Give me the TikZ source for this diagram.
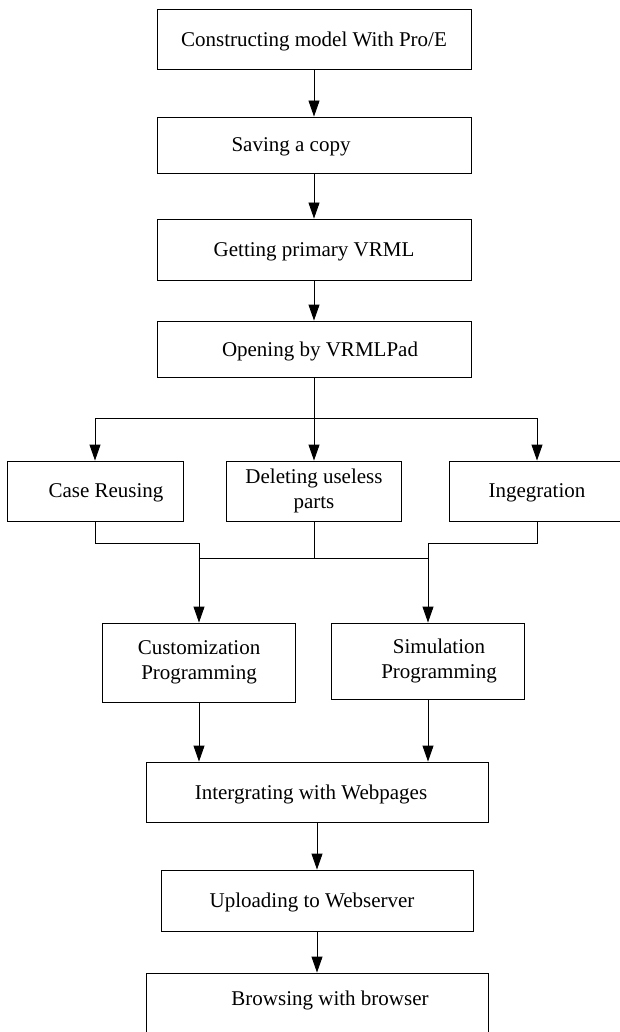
\documentclass[tikz,border=0pt]{standalone}
\usepackage{fontspec}
\setmainfont{Liberation Serif}
\usetikzlibrary{arrows.meta}
\begin{document}
\begin{tikzpicture}[x=1pt,y=-1pt,line width=0.9pt,font=\fontsize{21}{25}\selectfont,
        box/.style={draw,inner sep=0pt,minimum width=#1},box/.default=314,
        arr/.style={-{Triangle[length=16pt,width=11pt]}},
        every label/.style={align=center}]
    \useasboundingbox (0,0) rectangle (620,1032);
    \node[box,minimum height=60,label={[yshift=-2pt]center:Constructing model With Pro/E}] (model) at (314,39) {};
    \node[box,minimum height=56,label={[xshift=-23pt,yshift=-2pt]center:Saving a copy}] (copy) at (314,145) {};
    \node[box,minimum height=61,label={[yshift=-2pt]center:Getting primary VRML}] (vrml) at (314,249.5) {};
    \node[box,minimum height=56,label={[xshift=6pt,yshift=-2pt]center:Opening by VRMLPad}] (pad) at (314,349) {};
    \node[box=176,minimum height=60,label={[xshift=11pt,yshift=-2pt]center:Case Reusing}] (reuse) at (95,491) {};
    \node[box=175,minimum height=60,label={center:Deleting useless\\parts}] (del) at (314,491) {};
    \node[box=176,minimum height=60,label={[yshift=-2pt]center:Ingegration}] (integ) at (537,491) {};
    \node[box=193,minimum height=79,label={center:Customization\\Programming}] (cust) at (199,662.5) {};
    \node[box=193,minimum height=76,label={[xshift=11pt]center:Simulation\\Programming}] (sim) at (428,661) {};
    \node[box=342,minimum height=60,label={[xshift=-6pt,yshift=-2pt]center:Intergrating with Webpages}] (web) at (317,792) {};
    \node[box=342,minimum height=62,label={[xshift=13pt,yshift=-41pt]north:Browsing with browser}] (browse) at (317,1004) {};
    \node[box=312,minimum height=61,label={[xshift=-5pt,yshift=-2pt]center:Uploading to Webserver}] (up) at (317,900.5) {};
    \coordinate (fork) at (314,418);
    \coordinate (jl) at (199,543);
    \coordinate (jr) at (428,543);
    \coordinate (mid) at (314,558);
    \draw[arr] (model) -- (copy);
    \draw[arr] (copy) -- (vrml);
    \draw[arr] (vrml) -- (pad);
    \draw (pad) -- (fork);
    \draw[arr] (fork) -| (reuse);
    \draw[arr] (fork) -- (del);
    \draw[arr] (fork) -| (integ);
    \draw[arr] (reuse) |- (jl) -- (cust);
    \draw[arr] (integ) |- (jr) -- (sim);
    \draw (del) -- (mid);
    \draw (mid -| jl) -- (mid -| jr);
    \draw[arr] (cust) -- (cust |- web.north);
    \draw[arr] (sim) -- (sim |- web.north);
    \draw[arr] (web) -- (up);
    \draw[arr] (up) -- (browse);
\end{tikzpicture}
\end{document}
